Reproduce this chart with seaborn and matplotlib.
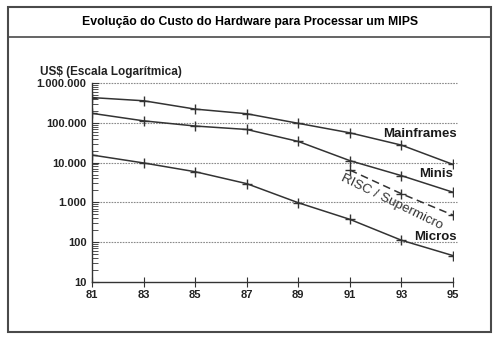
import numpy as np
import pandas as pd
import seaborn as sns
import matplotlib
matplotlib.use("Agg")
import matplotlib.pyplot as plt
from matplotlib.patches import Rectangle
from matplotlib.lines import Line2D
from matplotlib.ticker import FixedLocator, LogLocator, NullFormatter

# ---- data ----
years = [81, 83, 85, 87, 89, 91, 93, 95]
mainframes = [430000, 358000, 221000, 169000, 97000, 56000, 27500, 9000]
minis = [173000, 112000, 83000, 68000, 34000, 11200, 4700, 1800]
risc_years = [91, 93, 95]
risc = [6500, 1650, 480]
micros = [15500, 9800, 5900, 2960, 980, 375, 112, 46]

ytick_values = [10, 100, 1000, 10000, 100000, 1000000]
ytick_labels = ["10", "100", "1.000", "10.000", "100.000", "1.000.000"]
xtick_labels = ["81", "83", "85", "87", "89", "91", "93", "95"]

title = "Evolução do Custo do Hardware para Processar um MIPS"
ylabel = "US$ (Escala Logarítmica)"

sns.set_theme(style="white")
plt.rcParams['font.family'] = ['Liberation Sans', 'DejaVu Sans']

W, H = 500, 339
fig = plt.figure(figsize=(W / 100, H / 100), dpi=100)
fig.patch.set_facecolor("white")
ax = fig.add_axes([92 / W, 1 - 282 / H, (453 - 92) / W, (282 - 83) / H])
ax.set_facecolor("none")

line_color = "#333333"
series = [
    ("Mainframes", years, mainframes, "-"),
    ("Minis", years, minis, "-"),
    ("RISC / Supermicro", risc_years, risc, (0, (5, 3))),
    ("Micros", years, micros, "-"),
]
for name, xs, ys, ls in series:
    df = pd.DataFrame({"ano": xs, "custo": ys})
    sns.lineplot(data=df, x="ano", y="custo", ax=ax, color=line_color,
                 linewidth=1.1, linestyle=ls, marker="+", markersize=7,
                 markeredgewidth=1.0, markeredgecolor=line_color, legend=False)

ax.set_yscale("log")
ax.set_xlim(81, 95)
ax.set_ylim(10, 1000000)

# grid lines
for v in ytick_values[1:]:
    ax.plot([81.3, 95.15], [v, v], color="#8a8a8a", linestyle=(0, (1.5, 1)),
            linewidth=0.8, zorder=0, clip_on=False)

ax.yaxis.set_major_locator(FixedLocator(ytick_values))
ax.set_yticklabels(ytick_labels)
ax.yaxis.set_minor_locator(LogLocator(base=10, subs=np.arange(2, 10)))
ax.yaxis.set_minor_formatter(NullFormatter())
ax.set_xticks(years)
ax.set_xticklabels(xtick_labels)

ax.tick_params(axis="y", which="major", direction="in", length=5, width=0.8,
               color=line_color, labelsize=8, pad=4, left=True)
ax.tick_params(axis="y", which="minor", direction="in", length=4, width=0.6,
               color=line_color, left=True)
ax.tick_params(axis="x", which="major", direction="inout", length=7, width=0.8,
               color=line_color, labelsize=8, pad=2, bottom=True)
for lbl in ax.get_yticklabels() + ax.get_xticklabels():
    lbl.set_fontweight("bold")
    lbl.set_color("#222222")

for s in ["top", "right"]:
    ax.spines[s].set_visible(False)
for s in ["left", "bottom"]:
    ax.spines[s].set_color(line_color)
    ax.spines[s].set_linewidth(1.0)

ax.set_xlabel("")
ax.set_ylabel("")

# series labels
lbl_kw = dict(fontsize=9.5, fontweight="bold", color="#1a1a1a", ha="right", va="center")
ax.text(95.15, 52000, "Mainframes", **lbl_kw)
ax.text(95.0, 5100, "Minis", **lbl_kw)
ax.text(95.15, 135, "Micros", **lbl_kw)
ax.text(92.63, 1000, "RISC / Supermicro", fontsize=9.6, color="#333333",
        rotation=-26, ha="center", va="center", rotation_mode="anchor")

# y label
fig.text(40 / W, 1 - 72 / H, ylabel, fontsize=8.5, fontweight="bold",
         color="#222222", ha="left", va="center")

# outer frame and title
box_color = "#4a4a4a"
fig.patches.append(Rectangle((8 / W, 1 - 332 / H), (491 - 8) / W, (332 - 7) / H,
                             transform=fig.transFigure, fill=False,
                             edgecolor=box_color, linewidth=1.5))
fig.lines.append(Line2D([8 / W, 491 / W], [1 - 37 / H, 1 - 37 / H],
                        transform=fig.transFigure, color=box_color, linewidth=1.2))
fig.text(250 / W, 1 - 22.5 / H, title, fontsize=8.8, fontweight="bold",
         color="#000000", ha="center", va="center")

fig.savefig("out.png", dpi=100, facecolor="white")
